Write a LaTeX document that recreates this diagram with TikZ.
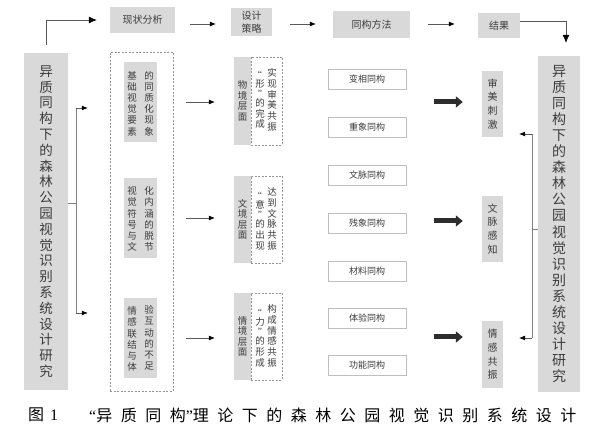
\documentclass[tikz,border=0pt]{standalone}
\usepackage{fontspec}
\newfontfamily\cjk{Noto Sans CJK SC}
\newfontfamily\lat{Liberation Serif}
\usetikzlibrary{arrows.meta}
\definecolor{gfill}{RGB}{217,217,217}
\definecolor{txt}{RGB}{60,60,60}
\definecolor{dsh}{RGB}{150,150,150}
\definecolor{mbd}{RGB}{190,190,190}
\definecolor{thkc}{RGB}{45,45,45}
\def\capspaced#1{\capspacedi#1\relax}
\def\capspacedi#1{\ifx\relax#1\else{#1}\hspace{8.5pt}\expandafter\capspacedi\fi}
\newcommand\fsz[2]{\fontsize{#1}{#2}\selectfont}
\begin{document}
\begin{tikzpicture}[x=1pt,y=-1pt,
  gbox/.style={fill=gfill, draw=none, inner sep=0pt, text=txt, align=center},
  colt/.style={inner sep=0pt, text=txt, align=center, font=\cjk\fsz{9.5}{11.2}},
  dbox/.style={draw=dsh, dash pattern=on 2pt off 1.5pt, line width=0.5pt, inner sep=0pt},
  mbox/.style={draw=mbd, line width=0.6pt, fill=white, inner sep=0pt, minimum width=78pt, minimum height=20pt, text=txt, font=\cjk\fsz{9}{11}},
  ln/.style={draw=black!50, line width=0.5pt},
  arr/.style={draw=black!65, line width=0.6pt, -{Latex[length=6pt,width=5pt,color=black]}},
  thk/.style={draw=thkc, line width=5pt, -{Triangle[length=7pt,width=11pt]}}
]
\useasboundingbox (0,0) rectangle (589,435);
\fill[white] (0,0) rectangle (589,435);

% big side boxes
\node[gbox, minimum width=44pt, minimum height=337pt, font=\cjk\fsz{13.5}{15.8}] (lb) at (46,221.5)
  {异\\质\\同\\构\\下\\的\\森\\林\\公\\园\\视\\觉\\识\\别\\系\\统\\设\\计\\研\\究};
\node[gbox, minimum width=42pt, minimum height=336pt, font=\cjk\fsz{14}{16.1}] (rb) at (559,224)
  {异\\质\\同\\构\\下\\的\\森\\林\\公\\园\\视\\觉\\识\\别\\系\\统\\设\\计\\研\\究};

% top row
\node[gbox, minimum width=65pt, minimum height=26pt, font=\cjk\fsz{10}{13}] (xz) at (142.5,20) {现状分析};
\node[gbox, minimum width=41pt, minimum height=28pt, font=\cjk\fsz{10}{13}] (sj) at (251.5,22) {设计\\策略};
\node[gbox, minimum width=77pt, minimum height=27pt, font=\cjk\fsz{10}{13}] (tg) at (371.5,24.5) {同构方法};
\node[gbox, minimum width=42pt, minimum height=25pt, font=\cjk\fsz{10}{13}] (jg) at (499,25.5) {结果};

% dashed problem box
\node[dbox, minimum width=63pt, minimum height=339pt] (db) at (141.5,222) {};
\node[gbox, minimum width=33pt, minimum height=80pt] (in1) at (140.5,102) {};
\node[gbox, minimum width=33pt, minimum height=80pt] (in2) at (140.5,218) {};
\node[gbox, minimum width=33pt, minimum height=80pt] (in3) at (140.5,338) {};
\node[colt] (in1l) at (132,103.5) {基\\础\\视\\觉\\要\\素};
\node[colt] (in1r) at (149,103.5) {的\\同\\质\\化\\现\\象};
\node[colt] (in2l) at (132,219) {视\\觉\\符\\号\\与\\文};
\node[colt] (in2r) at (149,219) {化\\内\\涵\\的\\脱\\节};
\node[colt] (in3l) at (132,339) {情\\感\\联\\结\\与\\体};
\node[colt] (in3r) at (149,338) {验\\互\\动\\的\\不\\足};

% level boxes
\node[gbox, minimum width=17pt, minimum height=88pt, font=\cjk\fsz{9.5}{10.5}] (lv1) at (242.5,101) {物\\境\\层\\面};
\node[dbox, minimum width=31pt, minimum height=88pt] (ld1) at (266.5,101) {};
\node[gbox, minimum width=17pt, minimum height=87pt, font=\cjk\fsz{9.5}{10.5}] (lv2) at (242.5,219.5) {文\\境\\层\\面};
\node[dbox, minimum width=31pt, minimum height=87pt] (ld2) at (266.5,219.5) {};
\node[gbox, minimum width=17pt, minimum height=87pt, font=\cjk\fsz{9.5}{10.5}] (lv3) at (242.5,336.5) {情\\境\\层\\面};
\node[dbox, minimum width=31pt, minimum height=87pt] (ld3) at (266.5,336.5) {};
\node[colt, font=\cjk\fsz{9.5}{10.7}] (ld1r) at (272,100) {实\\现\\审\\美\\共\\振};
\node[colt, font=\cjk\fsz{9.5}{10.7}] (ld1l) at (260,100) {{\lat “}\\[-1pt]形\\[-1pt]{\lat ”}\\[-1pt]的\\完\\成};
\node[colt, font=\cjk\fsz{9.5}{10.7}] (ld2r) at (272,219) {达\\到\\文\\脉\\共\\振};
\node[colt, font=\cjk\fsz{9.5}{10.7}] (ld2l) at (260,221) {{\lat “}\\[-1pt]意\\[-1pt]{\lat ”}\\[-1pt]的\\出\\现};
\node[colt, font=\cjk\fsz{9.5}{10.7}] (ld3r) at (272,336) {构\\成\\情\\感\\共\\振};
\node[colt, font=\cjk\fsz{9.5}{10.7}] (ld3l) at (260,338) {{\lat “}\\[-1pt]力\\[-1pt]{\lat ”}\\[-1pt]的\\形\\成};

% method boxes
\node[mbox] (m1) at (367,79) {变相同构};
\node[mbox] (m2) at (367,127) {重象同构};
\node[mbox] (m3) at (367,175) {文脉同构};
\node[mbox] (m4) at (367,223) {残象同构};
\node[mbox] (m5) at (367,271) {材料同构};
\node[mbox] (m6) at (367,318) {体验同构};
\node[mbox] (m7) at (367,365) {功能同构};

% result boxes
\node[gbox, minimum width=21pt, minimum height=66pt, font=\cjk\fsz{10}{13.7}] (r1) at (492.5,104) {审\\美\\刺\\激};
\node[gbox, minimum width=21pt, minimum height=66pt, font=\cjk\fsz{10}{13.7}] (r2) at (492.5,229) {文\\脉\\感\\知};
\node[gbox, minimum width=21pt, minimum height=67pt, font=\cjk\fsz{10}{13.7}] (r3) at (492.5,354.5) {情\\感\\共\\振};

% top arrows
\draw[arr, -{Latex[length=8pt,width=7pt,color=black]}, shorten <=8pt, shorten >=13pt] (lb.north) |- (xz.west);
\draw[arr, shorten <=15pt, shorten >=15pt] (xz.east |- 0,24) -- (sj.west |- 0,24);
\draw[arr, shorten <=18pt, shorten >=17pt] (sj.east |- 0,24) -- (tg.west |- 0,24);
\draw[arr, shorten <=18pt, shorten >=23pt] (tg.east |- 0,24) -- (jg.west |- 0,24);
\draw[arr, -{Latex[length=8pt,width=7pt,color=black]}, shorten >=13pt] (jg.east |- 0,21) -| (rb.north -| 566,0);

% left bracket
\coordinate (lbr) at (76,203);
\draw[ln] (lb.east |- lbr) -- (lbr);
\draw[ln] (lbr |- 0,108) -- (lbr |- 0,313);
\draw[arr, shorten >=22pt] (lbr |- 0,108) -- (db.west |- 0,108);
\draw[arr, shorten >=22pt] (lbr |- 0,313) -- (db.west |- 0,313);

% middle arrows
\draw[arr, shorten <=13pt, shorten >=19pt] (db.east |- in1) -- (lv1.west |- in1);
\draw[arr, shorten <=13pt, shorten >=19pt] (db.east |- in2) -- (lv2.west |- in2);
\draw[arr, shorten <=13pt, shorten >=19pt] (db.east |- in3) -- (lv3.west |- in3);

% thick arrows
\draw[thk, shorten <=28pt, shorten >=19pt] (m2.east |- 0,102) -- (r1.west |- 0,102);
\draw[thk, shorten <=28pt, shorten >=19pt] (m4.east |- 0,221) -- (r2.west |- 0,221);
\draw[thk, shorten <=28pt, shorten >=19pt] (m6.east |- 0,337) -- (r3.west |- 0,337);

% right bracket
\coordinate (rbr) at (532,229);
\draw[ln] (rb.west |- rbr) -- (rbr);
\draw[ln] (rbr |- 0,134) -- (rbr |- 0,338);
\draw[arr, shorten >=16pt] (rbr |- 0,134) -- (r1.east |- 0,134);
\draw[arr, shorten >=16pt] (rbr |- 0,338) -- (r3.east |- 0,338);

% caption
\node[anchor=west, inner sep=0pt, font=\cjk\fsz{16}{18}] (cap1) at (28,415) {图\hspace{6pt}{\lat 1}};
\node[anchor=west, inner sep=0pt, font=\cjk\fsz{16}{18}] (cap2) at (89,415)
  {{\lat “}\capspaced{异质同构}\hspace{-8.5pt}{\lat ”}\capspaced{理论下的森林公园视觉识别系统设计}};
\end{tikzpicture}
\end{document}
